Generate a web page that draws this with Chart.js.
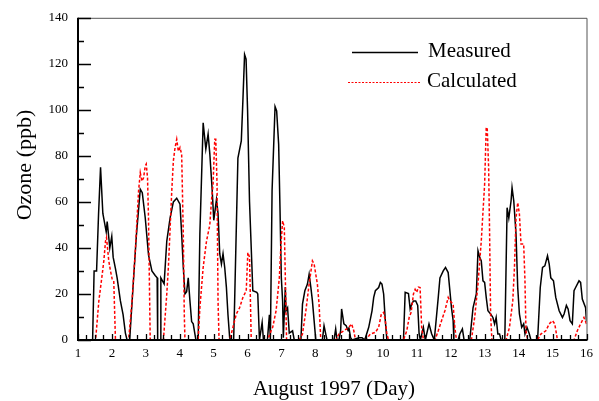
<!DOCTYPE html>
<html><head><meta charset="utf-8">
<script src="https://cdn.jsdelivr.net/npm/chart.js@4.4.0/dist/chart.umd.min.js"></script>
<style>html,body{margin:0;padding:0;background:#fff;}</style>
</head><body>
<canvas id="c" width="599" height="401"></canvas>
<script>
const dayTicks = [1,2,3,4,5,6,7,8,9,10,11,12,13,14,15,16];
const ppbTicks = [0,20,40,60,80,100,120,140];
const seriesNames = ['Measured','Calculated'];
const xTitle = 'August 1997 (Day)';
const yTitle = 'Ozone (ppb)';

const measuredDay = [1.0,1.431,1.475,1.548,1.607,1.665,1.733,1.832,1.861,1.938,1.996,2.037,2.105,2.154,2.251,2.330,2.398,2.447,2.524,2.632,2.720,2.837,2.896,2.984,3.080,3.180,3.277,3.335,3.350,3.429,3.444,3.540,3.619,3.716,3.813,3.912,4.009,4.058,4.106,4.155,4.205,4.252,4.302,4.352,4.399,4.478,4.545,4.595,4.692,4.771,4.838,4.888,4.955,5.005,5.084,5.131,5.181,5.231,5.278,5.328,5.377,5.424,5.474,5.503,5.591,5.621,5.717,5.817,5.864,5.914,5.958,6.002,6.060,6.157,6.274,6.303,6.353,6.432,6.470,6.587,6.646,6.675,6.725,6.813,6.860,6.919,6.960,6.998,7.036,7.057,7.115,7.136,7.182,7.232,7.329,7.379,7.575,7.622,7.692,7.768,7.818,7.868,7.915,7.965,8.014,8.208,8.258,8.307,8.346,8.551,8.601,8.639,8.697,8.747,8.776,8.843,8.911,8.970,8.990,9.040,9.087,9.283,9.380,9.459,9.576,9.673,9.723,9.772,9.869,9.919,9.966,10.016,10.065,10.112,10.601,10.651,10.748,10.798,10.845,10.895,10.962,11.021,11.062,11.100,11.188,11.246,11.354,11.431,11.510,11.627,11.677,11.774,11.841,11.920,12.017,12.066,12.087,12.213,12.263,12.339,12.389,12.556,12.653,12.750,12.799,12.849,12.896,12.946,12.995,13.042,13.092,13.171,13.239,13.289,13.335,13.385,13.435,13.482,13.590,13.658,13.708,13.775,13.804,13.854,13.921,13.971,14.021,14.088,14.147,14.185,14.244,14.314,14.361,14.557,14.636,14.703,14.771,14.850,14.900,14.947,15.026,15.093,15.193,15.290,15.339,15.407,15.457,15.515,15.582,15.632,15.679,15.779,15.826,15.876,15.973,16.0];
const measuredPpb = [0,0,30,30,55,75,55,47,51.5,40,45,36,31,27,17,11,3,0,0,25,45,65.5,64,53,37,30,28,27,0,0,27,24.4,43,53,60,61.6,59,46,31.5,20,21,27,17,8,7,0,0,46,94.4,83,89.5,81,66,52,61,55,37.5,33,37.5,31.5,23,11,1,0,0,17,79,86.5,104,124,122,100,60,21.4,20.7,20,0,7.6,0,0,11,0,65,101.4,99.5,85,56,27,17,1,23,12.7,14,3,4,0,0,15.6,21.4,24.3,28.6,23,17,8.4,0,0,6.2,2.7,0,0,4.8,0,0,4,13.5,7,6.2,4,5.5,1,0,1,1,0,5.5,12.7,18.5,21.4,22.8,25,24.3,20,8.4,0,0,20.7,20.2,13.5,15.6,17,17,15,2.6,0,5.5,0,7,2.7,0,18.5,27,30,31.5,29.3,14,8.4,0,0,2.6,4.8,0,0,14,20,38.8,36,34.4,25.7,25,18.5,12.7,11.3,9.8,7,9.8,2.6,2.6,0,0,57.5,53,60.5,66.2,60.5,46,22.8,11.3,5.5,7,2.6,5.5,2.6,0,0,22.8,31.5,32.2,36.6,33,27,25.7,18.5,12.7,9.8,11.3,15,13.5,8.4,7,21.4,22.8,25.7,25,17.8,14,8];

const calculatedDay = [1.0,1.519,1.615,1.715,1.762,1.812,1.841,1.908,1.958,2.008,2.055,2.105,2.494,2.594,2.691,2.787,2.837,2.887,2.934,2.984,3.013,3.051,3.080,3.130,3.520,3.619,3.666,3.716,3.766,3.813,3.863,3.912,3.959,4.009,4.058,4.106,4.135,4.155,4.545,4.595,4.692,4.791,4.888,4.937,4.984,5.034,5.064,5.102,5.131,5.161,5.474,5.571,5.670,5.767,5.864,5.963,6.010,6.060,6.110,6.596,6.696,6.743,6.843,6.939,6.988,7.036,7.086,7.135,7.153,7.525,7.622,7.722,7.818,7.915,7.965,8.061,8.111,8.161,8.601,8.697,8.843,8.990,9.069,9.136,9.185,9.480,9.626,9.772,9.869,9.948,10.016,10.065,10.112,10.162,10.601,10.698,10.769,10.827,10.895,10.945,10.991,11.041,11.091,11.138,11.188,11.530,11.627,11.724,11.823,11.920,11.969,12.066,12.116,12.163,12.603,12.702,12.799,12.896,12.995,13.042,13.071,13.113,13.142,13.171,13.209,13.628,13.728,13.825,13.875,13.921,13.971,14.021,14.068,14.147,14.185,14.214,14.264,14.557,14.654,14.800,14.900,14.996,15.064,15.143,15.632,15.729,15.826,15.925,16.0];
const calculatedPpb = [0,0,17,28.6,34.4,43,44.5,34.4,30,26.5,25.7,0,0,17,38.8,64.8,72.7,69,70.5,75.6,76.4,70.5,53,0,0,20,31.5,48,64.8,77.8,83.6,87.2,82,83.6,80.7,46,11.3,0,0,14,31.5,43,50,60.5,67.7,87.2,87.2,67.7,17,0,0,5.5,11.3,14,18.5,21.4,38,36,0,0,4,5.5,12.7,27,41.7,51.8,48.9,12.7,0,0,2.6,12.7,24.3,34.4,33,24.3,15.6,0,0,2.6,4,5.5,7,4,0,0,2.6,3.3,5.5,11.3,12,8.4,2.6,0,0,4,9.8,12,20,22,20.7,23,22.8,5.5,0,0,4,8.4,12.7,18.5,17,15.6,5.5,0,0,9.8,24.3,43,67.7,92.3,92.3,75,46,11.3,0,0,5.5,17,31.5,53,59.7,54.7,41.7,41.7,25.7,4,0,0,2.6,4,7,8.4,7,0,0,4,7,9.8,7];

const FONT = "'Liberation Serif','Times New Roman',serif";

const decor = {
  id: 'decor',
  afterDraw(chart) {
    const ctx = chart.ctx;
    const a = chart.chartArea;
    const xs = chart.scales.x, ys = chart.scales.y;
    ctx.save();
    // frame top/right
    ctx.strokeStyle = '#555';
    ctx.lineWidth = 1;
    ctx.beginPath();
    ctx.moveTo(a.left, a.top + 0.5); ctx.lineTo(a.right + 0.5, a.top + 0.5);
    ctx.lineTo(a.right + 0.5, a.bottom);
    ctx.stroke();
    // ticks
    ctx.strokeStyle = '#000';
    ctx.lineWidth = 1.3;
    ctx.beginPath();
    for (let v = 0; v <= 140; v += 10) {
      const py = Math.round(ys.getPixelForValue(v)) + 0.5;
      const len = (v % 20 === 0) ? 13 : 6;
      ctx.moveTo(a.left, py); ctx.lineTo(a.left + len, py);
    }
    for (let d = 1; d <= 16.001; d += 0.25) {
      const px = Math.round(xs.getPixelForValue(d)) + 0.5;
      const len = Math.abs(d - Math.round(d)) < 1e-6 ? 6 : 5;
      ctx.moveTo(px, a.bottom); ctx.lineTo(px, a.bottom - len);
    }
    ctx.stroke();
    // axes left/bottom
    ctx.lineWidth = 2;
    ctx.beginPath();
    ctx.moveTo(a.left, a.top); ctx.lineTo(a.left, a.bottom); ctx.lineTo(a.right + 1, a.bottom);
    ctx.stroke();
    // titles
    ctx.fillStyle = '#000';
    ctx.textBaseline = 'alphabetic';
    ctx.textAlign = 'center';
    ctx.font = '21px ' + FONT;
    ctx.fillText(xTitle, 334, 395);
    ctx.save();
    ctx.translate(31, 165);
    ctx.rotate(-Math.PI / 2);
    ctx.font = '22px ' + FONT;
    ctx.fillText(yTitle, 0, 0);
    ctx.restore();
    // legend
    ctx.textAlign = 'left';
    ctx.font = '21px ' + FONT;
    ctx.strokeStyle = '#000';
    ctx.lineWidth = 1.5;
    ctx.setLineDash([]);
    ctx.beginPath(); ctx.moveTo(352, 52.5); ctx.lineTo(418, 52.5); ctx.stroke();
    ctx.fillText(seriesNames[0], 428, 57);
    ctx.strokeStyle = '#ff0000';
    ctx.lineWidth = 1;
    ctx.setLineDash([2, 1.5]);
    ctx.beginPath(); ctx.moveTo(348, 82.5); ctx.lineTo(420, 82.5); ctx.stroke();
    ctx.setLineDash([]);
    ctx.fillText(seriesNames[1], 427, 87);
    ctx.restore();
  }
};

new Chart(document.getElementById('c'), {
  type: 'line',
  data: {
    datasets: [
      {
        label: seriesNames[1],
        data: calculatedDay.map((d, i) => ({x: d, y: calculatedPpb[i]})),
        borderColor: '#ff0000',
        borderWidth: 1.5,
        borderDash: [3, 2],
        pointRadius: 0,
        tension: 0,
        fill: false
      },
      {
        label: seriesNames[0],
        data: measuredDay.map((d, i) => ({x: d, y: measuredPpb[i]})),
        borderColor: '#000000',
        borderWidth: 1.5,
        pointRadius: 0,
        tension: 0,
        fill: false
      }
    ]
  },
  options: {
    responsive: false,
    animation: false,
    devicePixelRatio: 1,
    layout: {padding: {top: 17, right: 8, left: 0, bottom: 0}},
    plugins: {legend: {display: false}, tooltip: {enabled: false}},
    scales: {
      x: {
        type: 'linear', min: 1, max: 16,
        afterBuildTicks: s => { s.ticks = dayTicks.map(v => ({value: v})); },
        afterFit: s => { s.height = 61; },
        grid: {display: false, drawTicks: false},
        border: {display: false},
        ticks: {font: {family: FONT, size: 13}, color: '#000', padding: 6, maxRotation: 0, autoSkip: false}
      },
      y: {
        type: 'linear', min: 0, max: 140,
        afterBuildTicks: s => { s.ticks = ppbTicks.map(v => ({value: v})); },
        afterFit: s => { s.width = 78; },
        grid: {display: false, drawTicks: false},
        border: {display: false},
        ticks: {font: {family: FONT, size: 13}, color: '#000', padding: 10}
      }
    }
  },
  plugins: [decor]
});
</script>
</body></html>
